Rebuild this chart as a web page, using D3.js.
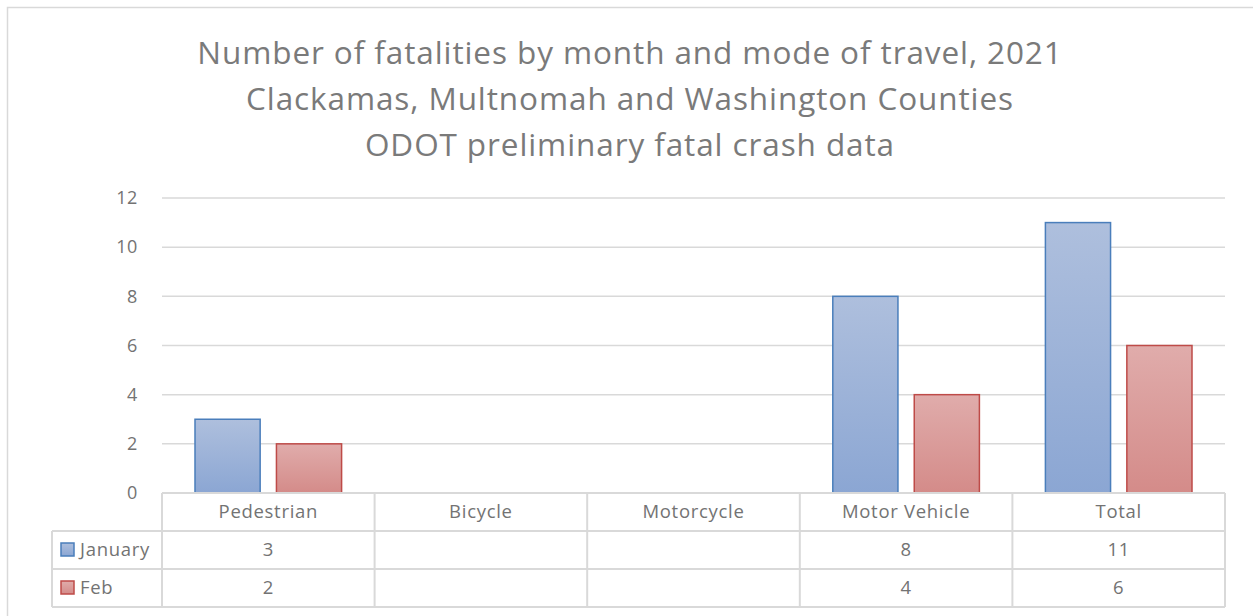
<!DOCTYPE html>
<html>
<head>
<meta charset="utf-8">
<script src="https://cdn.jsdelivr.net/npm/d3@7"></script>
<style>
    body { margin: 0; background: #fff; }
    svg { display: block; font-family: "Open Sans", sans-serif; }
</style>
</head>
<body>
<div id="chart"></div>
<script>
const titleLines = [
    'Number of fatalities by month and mode of travel, 2021',
    'Clackamas, Multnomah and Washington Counties',
    'ODOT preliminary fatal crash data'
];
const categories = ['Pedestrian', 'Bicycle', 'Motorcycle', 'Motor Vehicle', 'Total'];
const seriesNames = ['January', 'Feb'];
const january = [3, null, null, 8, 11];
const feb = [2, null, null, 4, 6];
const yTicks = [0, 2, 4, 6, 8, 10, 12];

const width = 1253;
const height = 616;
const textColor = '#737373';
const lineColor = '#d9d9d9';

const plot = { left: 162, right: 1225, top: 198, bottom: 493 };
const rowH = 38;

const svg = d3.select('#chart')
    .append('svg')
    .attr('width', width)
    .attr('height', height);

// outer chart border
svg.append('rect')
    .attr('x', 7.5)
    .attr('y', 7.5)
    .attr('width', width + 20)
    .attr('height', height + 20)
    .attr('fill', 'none')
    .attr('stroke', lineColor)
    .attr('stroke-width', 1.5);

const defs = svg.append('defs');
const gradients = [
    { id: 'gradJan', top: '#aebfdd', bottom: '#8ba6d3', stroke: '#4a7ebb' },
    { id: 'gradFeb', top: '#e0acab', bottom: '#d48b89', stroke: '#be4b48' }
];
gradients.forEach(g => {
    const lg = defs.append('linearGradient')
        .attr('id', g.id)
        .attr('x1', 0).attr('y1', 0)
        .attr('x2', 0).attr('y2', 1);
    lg.append('stop').attr('offset', '0%').attr('stop-color', g.top);
    lg.append('stop').attr('offset', '100%').attr('stop-color', g.bottom);
});

// title
svg.append('g')
    .selectAll('text')
    .data(titleLines)
    .enter()
    .append('text')
    .attr('x', 630)
    .attr('y', (d, i) => 64 + i * 46)
    .attr('text-anchor', 'middle')
    .attr('font-size', '31.5px')
    .attr('letter-spacing', '0.9px')
    .attr('fill', '#7a7a7a')
    .text(d => d);

const x0 = d3.scaleBand()
    .domain(categories)
    .range([plot.left, plot.right]);

const x1 = d3.scaleBand()
    .domain(seriesNames)
    .range([33, x0.bandwidth() - 33])
    .paddingInner(0.2);

const y = d3.scaleLinear()
    .domain([0, 12])
    .range([plot.bottom, plot.top]);

// gridlines
svg.append('g')
    .selectAll('line')
    .data(yTicks.filter(d => d > 0))
    .enter()
    .append('line')
    .attr('x1', plot.left)
    .attr('x2', plot.right)
    .attr('y1', d => y(d))
    .attr('y2', d => y(d))
    .attr('stroke', lineColor)
    .attr('stroke-width', 1.5);

// y axis labels
const yAxis = svg.append('g')
    .attr('transform', `translate(${plot.left - 24},0)`)
    .call(d3.axisLeft(y).tickValues(yTicks).tickSize(0).tickPadding(0));
yAxis.select('.domain').remove();
yAxis.selectAll('text')
    .attr('font-family', '"Open Sans", sans-serif')
    .attr('font-size', '18px')
    .attr('letter-spacing', '0.6px')
    .attr('fill', textColor);

// bars
const seriesData = [january, feb];
seriesData.forEach((values, si) => {
    const name = seriesNames[si];
    svg.append('g')
        .selectAll('rect')
        .data(categories.map((c, i) => ({ cat: c, value: values[i] })).filter(d => d.value != null))
        .enter()
        .append('rect')
        .attr('x', d => x0(d.cat) + x1(name))
        .attr('y', d => y(d.value))
        .attr('width', x1.bandwidth())
        .attr('height', d => y(0) - y(d.value))
        .attr('fill', `url(#${gradients[si].id})`)
        .attr('stroke', gradients[si].stroke)
        .attr('stroke-width', 1.5);
});

// data table
const table = svg.append('g');
const tableBottom = plot.bottom + rowH * 3;
const legendLeft = 52;
const cellFont = '18.5px';
const cellSpacing = '0.7px';

// horizontal lines
table.append('line')
    .attr('x1', plot.left).attr('x2', plot.right)
    .attr('y1', plot.bottom).attr('y2', plot.bottom);
[1, 2, 3].forEach(r => {
    table.append('line')
        .attr('x1', legendLeft).attr('x2', plot.right)
        .attr('y1', plot.bottom + r * rowH).attr('y2', plot.bottom + r * rowH);
});
// vertical lines
const colEdges = categories.map(c => x0(c)).concat([plot.right]);
colEdges.forEach(xv => {
    table.append('line')
        .attr('x1', xv).attr('x2', xv)
        .attr('y1', plot.bottom).attr('y2', tableBottom);
});
table.append('line')
    .attr('x1', legendLeft).attr('x2', legendLeft)
    .attr('y1', plot.bottom + rowH).attr('y2', tableBottom);
table.selectAll('line')
    .attr('stroke', lineColor)
    .attr('stroke-width', 2);

// category header row
table.append('g')
    .selectAll('text')
    .data(categories)
    .enter()
    .append('text')
    .attr('x', d => x0(d) + x0.bandwidth() / 2)
    .attr('y', plot.bottom + 25)
    .attr('text-anchor', 'middle')
    .attr('font-size', cellFont)
    .attr('letter-spacing', cellSpacing)
    .attr('fill', textColor)
    .text(d => d);

// series rows
seriesData.forEach((values, si) => {
    const rowY = plot.bottom + rowH * (si + 1);
    table.append('rect')
        .attr('x', 61)
        .attr('y', rowY + 12)
        .attr('width', 13)
        .attr('height', 13)
        .attr('fill', `url(#${gradients[si].id})`)
        .attr('stroke', gradients[si].stroke)
        .attr('stroke-width', 1.5);
    table.append('text')
        .attr('x', 80)
        .attr('y', rowY + 25)
        .attr('font-size', cellFont)
        .attr('letter-spacing', cellSpacing)
        .attr('fill', textColor)
        .text(seriesNames[si]);
    table.append('g')
        .selectAll('text')
        .data(categories.map((c, i) => ({ cat: c, value: values[i] })).filter(d => d.value != null))
        .enter()
        .append('text')
        .attr('x', d => x0(d.cat) + x0.bandwidth() / 2)
        .attr('y', rowY + 25)
        .attr('text-anchor', 'middle')
        .attr('font-size', cellFont)
        .attr('letter-spacing', cellSpacing)
        .attr('fill', textColor)
        .text(d => d.value);
});
</script>
</body>
</html>
